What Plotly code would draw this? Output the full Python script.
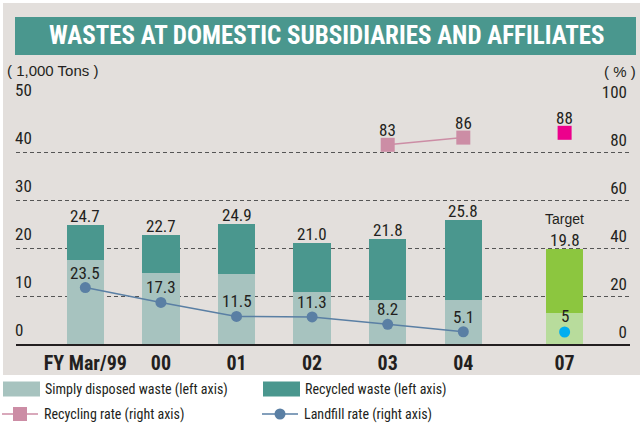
import plotly.graph_objects as go

# ---- data -------------------------------------------------------------
categories = ["FY Mar/99", "00", "01", "02", "03", "04", "07"]
total_waste = [24.7, 22.7, 24.9, 21.0, 21.8, 25.8, 19.8]        # 1,000 tons
disposed_waste = [17.6, 14.7, 14.5, 10.9, 9.1, 9.1, 6.4]        # 1,000 tons
landfill_rate = [23.5, 17.3, 11.5, 11.3, 8.2, 5.1]              # %
landfill_target = [5]                                           # %
recycling_rate = [83, 86]                                       # %, FY03-FY04
recycling_target = [88]                                         # %
left_ticks = [0, 10, 20, 30, 40, 50]
right_ticks = [0, 20, 40, 60, 80, 100]

recycled_waste = [round(t - d, 1) for t, d in zip(total_waste, disposed_waste)]

# x coordinates: one slot per fiscal year, the target year set a bit further out
TARGET_GAP = 1.34
x_pos = list(range(len(categories) - 1))
x_pos.append(x_pos[-1] + TARGET_GAP)
target_x = x_pos[-1:]
landfill_x = x_pos[:len(landfill_rate)]
recycling_x = x_pos[4:4 + len(recycling_rate)]

# ---- styling ----------------------------------------------------------
W, H = 640, 424
M_L, M_R, M_T, M_B = 16, 10, 104, 80
NARROW = "Roboto Condensed, Liberation Sans, Arial, sans-serif"
REGULAR = "Liberation Sans, Arial, sans-serif"
INK = "#231f20"
PANEL = "#e3dfdc"
TEAL = "#4a978e"
TEAL_LIGHT = "#a7c3bf"
LIME = "#8cc63f"
LIME_LIGHT = "#b8dc9c"
PINK = "#cc8da5"
MAGENTA = "#ec008c"
STEEL = "#5a7fa4"
CYAN = "#00aeef"
VALUE_FONT = dict(family=NARROW, size=17, color=INK)

pw, ph = W - M_L - M_R, H - M_T - M_B


def px_x(v):
    return (v - M_L) / pw


def px_y(v):
    return (H - M_B - v) / ph


disposed_colors = [TEAL_LIGHT] * (len(categories) - 1) + [LIME_LIGHT]
recycled_colors = [TEAL] * (len(categories) - 1) + [LIME]

fig = go.Figure()

fig.add_trace(go.Bar(
    x=x_pos, y=disposed_waste, width=0.493,
    marker=dict(color=disposed_colors, line=dict(width=0)),
    name="Simply disposed waste (left axis)", showlegend=False,
))
fig.add_trace(go.Bar(
    x=x_pos, y=recycled_waste, width=0.493,
    marker=dict(color=recycled_colors, line=dict(width=0)),
    name="Recycled waste (left axis)", showlegend=False,
))

fig.add_trace(go.Scatter(
    x=landfill_x, y=landfill_rate, yaxis="y2", mode="lines+markers",
    line=dict(color=STEEL, width=1.5),
    marker=dict(color=STEEL, size=11, symbol="circle"),
    name="Landfill rate (right axis)", showlegend=False,
))
fig.add_trace(go.Scatter(
    x=target_x, y=landfill_target, yaxis="y2", mode="markers",
    marker=dict(color=CYAN, size=11, symbol="circle"),
    showlegend=False,
))
fig.add_trace(go.Scatter(
    x=recycling_x, y=recycling_rate, yaxis="y2", mode="lines+markers",
    line=dict(color=PINK, width=1.5),
    marker=dict(color=PINK, size=14, symbol="square"),
    name="Recycling rate (right axis)", showlegend=False,
))
fig.add_trace(go.Scatter(
    x=target_x, y=recycling_target, yaxis="y2", mode="markers",
    marker=dict(color=MAGENTA, size=14, symbol="square"),
    showlegend=False,
))

annotations = []


def value_label(x, y, text, yref, yshift):
    annotations.append(dict(
        x=x, y=y, xref="x", yref=yref, text=text, showarrow=False,
        yanchor="bottom", yshift=yshift, font=VALUE_FONT,
    ))


# totals above each bar
for x, t in zip(x_pos, total_waste):
    value_label(x, t, f"{t:.1f}", "y", -3)
# rate labels above their markers
for x, v in zip(landfill_x, landfill_rate):
    value_label(x, v, f"{v}", "y2", 3)
for x, v in zip(target_x, landfill_target):
    value_label(x, v, f"{v}", "y2", 4)
for x, v in zip(recycling_x + target_x, recycling_rate + recycling_target):
    value_label(x, v, f"{v}", "y2", 3)

annotations.append(dict(
    x=target_x[0], y=total_waste[-1], xref="x", yref="y", text="Target",
    showarrow=False, yanchor="bottom", yshift=20,
    font=dict(family=REGULAR, size=14, color=INK),
))

# unit labels
annotations.append(dict(
    x=px_x(5), y=px_y(70), xref="paper", yref="paper", text="( 1,000 Tons )",
    showarrow=False, xanchor="left", yanchor="middle",
    font=dict(family=REGULAR, size=15, color=INK),
))
annotations.append(dict(
    x=px_x(638), y=px_y(71), xref="paper", yref="paper", text="( % )",
    showarrow=False, xanchor="right", yanchor="middle",
    font=dict(family=REGULAR, size=15, color=INK),
))
# title banner text
annotations.append(dict(
    x=px_x(327), y=px_y(36), xref="paper", yref="paper",
    text="<b>WASTES AT DOMESTIC SUBSIDIARIES AND AFFILIATES</b>",
    showarrow=False, xanchor="center", yanchor="middle",
    font=dict(family=NARROW, size=25, color="white"),
))

shapes = [
    dict(type="rect", xref="paper", yref="paper", layer="below",
         x0=px_x(3), x1=px_x(640), y0=px_y(3), y1=px_y(375),
         fillcolor=PANEL, line=dict(width=0)),
    dict(type="rect", xref="paper", yref="paper", layer="below",
         x0=px_x(15), x1=px_x(636), y0=px_y(17), y1=px_y(55),
         fillcolor=TEAL, line=dict(width=0)),
]

# legend
legend_font = dict(family=NARROW, size=14, color=INK)
rows = [
    (3, 389, "bar", TEAL_LIGHT, "Simply disposed waste (left axis)"),
    (263, 389, "bar", TEAL, "Recycled waste (left axis)"),
    (2, 414, "square", PINK, "Recycling rate (right axis)"),
    (262, 414, "circle", STEEL, "Landfill rate (right axis)"),
]
for x0, yc, kind, color, label in rows:
    if kind == "bar":
        shapes.append(dict(type="rect", xref="paper", yref="paper",
                           x0=px_x(x0), x1=px_x(x0 + 37),
                           y0=px_y(yc - 7.5), y1=px_y(yc + 7.5),
                           fillcolor=color, line=dict(width=0)))
    else:
        shapes.append(dict(type="line", xref="paper", yref="paper",
                           x0=px_x(x0), x1=px_x(x0 + 36),
                           y0=px_y(yc), y1=px_y(yc),
                           line=dict(color=color, width=1.5)))
        cx = x0 + 18
        r = 7 if kind == "square" else 5.5
        shapes.append(dict(type="rect" if kind == "square" else "circle",
                           xref="paper", yref="paper",
                           x0=px_x(cx - r), x1=px_x(cx + r),
                           y0=px_y(yc - r), y1=px_y(yc + r),
                           fillcolor=color, line=dict(width=0)))
    annotations.append(dict(
        x=px_x(x0 + 40), y=px_y(yc), xref="paper", yref="paper", text=label,
        showarrow=False, xanchor="left", yanchor="middle", font=legend_font,
    ))

fig.update_layout(
    width=W, height=H,
    margin=dict(l=M_L, r=M_R, t=M_T, b=M_B, autoexpand=False),
    paper_bgcolor="white", plot_bgcolor="rgba(0,0,0,0)",
    barmode="stack", bargap=0,
    showlegend=False,
    xaxis=dict(
        range=[-0.917, 7.205], tickvals=x_pos,
        ticktext=[f"<b>{c}</b>" for c in categories],
        tickfont=dict(family=NARROW, size=20, color=INK),
        showgrid=False, zeroline=False, ticks="",
        showline=True, linecolor=INK, linewidth=1.5,
        fixedrange=True,
    ),
    yaxis=dict(
        range=[0, 50], tickvals=left_ticks,
        tickfont=dict(family=NARROW, size=17, color=INK),
        ticklabelposition="inside top", ticklabeloverflow="allow",
        ticklabelstandoff=-4, ticklabelshift=-2,
        showgrid=True, gridcolor="#555555", gridwidth=1, griddash="4px,3px",
        zeroline=False, showline=False, ticks="",
    ),
    yaxis2=dict(
        range=[0, 100], tickvals=right_ticks, overlaying="y", side="right",
        tickfont=dict(family=NARROW, size=17, color=INK),
        ticklabelposition="inside top", ticklabeloverflow="allow",
        showgrid=False, zeroline=False, showline=False, ticks="",
    ),
    shapes=shapes,
    annotations=annotations,
)

fig.write_html("out.html")
